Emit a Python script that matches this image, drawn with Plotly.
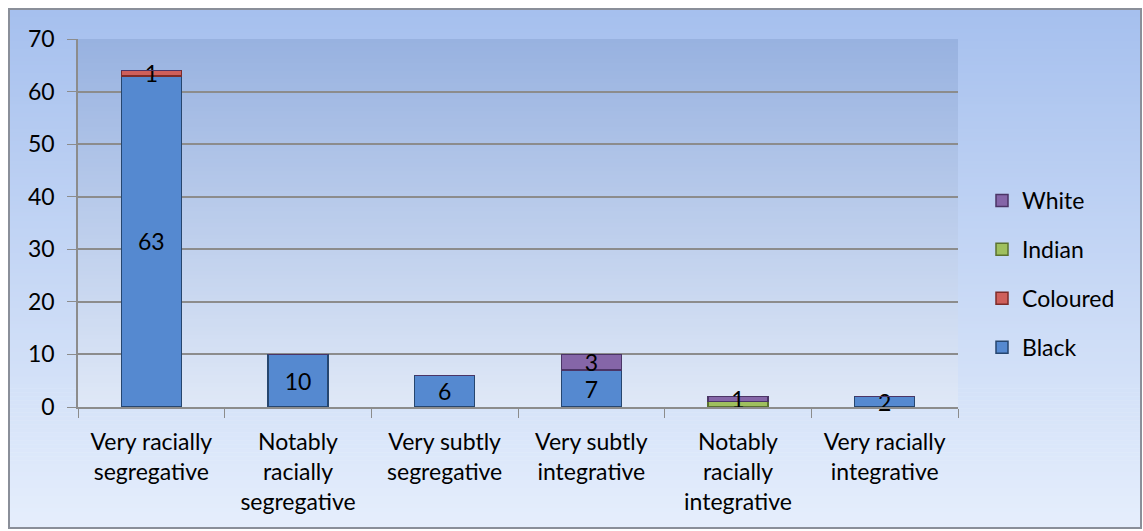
import plotly.graph_objects as go

# Survey categories and counts per population group
categories = [
    "Very racially<br>segregative",
    "Notably<br>racially<br>segregative",
    "Very subtly<br>segregative",
    "Very subtly<br>integrative",
    "Notably<br>racially<br>integrative",
    "Very racially<br>integrative",
]
black = [63, 10, 6, 7, 0, 2]
coloured = [1, 0, 0, 0, 0, 0]
indian = [0, 0, 0, 0, 1, 0]
white = [0, 0, 0, 3, 1, 0]

y_ticks = [0, 10, 20, 30, 40, 50, 60, 70]

# name, values, fill, edge, show value labels, legend rank
series = [
    ("Black", black, "#5589d0", "#26466f", True, 4),
    ("Coloured", coloured, "#cf5f5b", "#7d2c2a", True, 3),
    ("Indian", indian, "#9fc05e", "#5b7230", False, 2),
    ("White", white, "#8566a8", "#4b3566", True, 1),
]

W, H = 1143, 531
L, R, T, B = 78, 185, 39, 124
PW, PH = W - L - R, H - T - B

FONT = "Lato"
FS = 23

fig = go.Figure()
for name, vals, fill, edge, show_lbl, rank in series:
    labels = [str(v) if (v and show_lbl) else "" for v in vals]
    fig.add_trace(go.Bar(
        name=name, x=categories, y=vals, text=labels,
        textposition="inside", insidetextanchor="middle", textangle=0,
        textfont=dict(family=FONT, size=FS, color="black"),
        marker=dict(color=fill, line=dict(color=edge, width=1.5)),
        legendgroup=name, legendrank=rank, cliponaxis=False,
    ))


def px_to_paper_x(px):
    return (px - L) / PW


def px_to_paper_y(py):
    return (H - B - py) / PH


def lerp(c0, c1, t):
    return "rgb(%d,%d,%d)" % tuple(round(a + (b - a) * t) for a, b in zip(c0, c1))


def gradient(x0, x1, y0, y1, top, bottom, steps):
    out = []
    for k in range(steps):
        ya = y0 + (y1 - y0) * k / steps
        yb = y0 + (y1 - y0) * (k + 1) / steps + 0.6
        out.append(dict(
            type="rect", xref="paper", yref="paper", layer="below",
            x0=px_to_paper_x(x0), x1=px_to_paper_x(x1),
            y0=px_to_paper_y(ya), y1=px_to_paper_y(min(yb, y1)),
            fillcolor=lerp(top, bottom, k / (steps - 1)), line=dict(width=0),
        ))
    return out


shapes = []
# chart frame background
shapes += gradient(9, 1141, 9, 528, (166, 192, 238), (229, 238, 252), 130)
# plot area background
shapes += gradient(L, L + PW, T, T + PH, (152, 178, 224), (223, 232, 247), 92)
# frame border
shapes.append(dict(
    type="rect", xref="paper", yref="paper", layer="below",
    x0=px_to_paper_x(9), x1=px_to_paper_x(1141),
    y0=px_to_paper_y(528), y1=px_to_paper_y(9),
    line=dict(color="#8a8f99", width=2), fillcolor="rgba(0,0,0,0)",
))

fig.update_layout(
    width=W, height=H,
    margin=dict(l=L, r=R, t=T, b=B, pad=0),
    paper_bgcolor="white", plot_bgcolor="rgba(0,0,0,0)",
    barmode="stack", bargap=0.59,
    font=dict(family=FONT, size=FS, color="black"),
    uniformtext=dict(minsize=FS, mode="show"),
    shapes=shapes,
    showlegend=True,
    legend=dict(
        x=px_to_paper_x(982), xanchor="left",
        y=px_to_paper_y(274), yanchor="middle",
        traceorder="grouped", tracegroupgap=16,
        font=dict(family=FONT, size=FS, color="black"),
        bgcolor="rgba(0,0,0,0)", itemwidth=30,
    ),
    xaxis=dict(
        showgrid=False, showline=True, linecolor="#8c8c8c", linewidth=1.5,
        ticks="outside", tickson="boundaries", ticklen=9, tickcolor="#8c8c8c",
        tickfont=dict(family=FONT, size=FS, color="black"),
        ticklabelstandoff=14, zeroline=False,
    ),
    yaxis=dict(
        range=[0, 70], tickvals=y_ticks, showgrid=True,
        gridcolor="#8c8c8c", gridwidth=1.5,
        showline=True, linecolor="#8c8c8c", linewidth=1.5,
        ticks="outside", ticklen=9, tickcolor="#8c8c8c",
        tickfont=dict(family=FONT, size=FS, color="black"),
        ticklabelstandoff=8, zeroline=False,
    ),
)

fig.write_html("out.html")
